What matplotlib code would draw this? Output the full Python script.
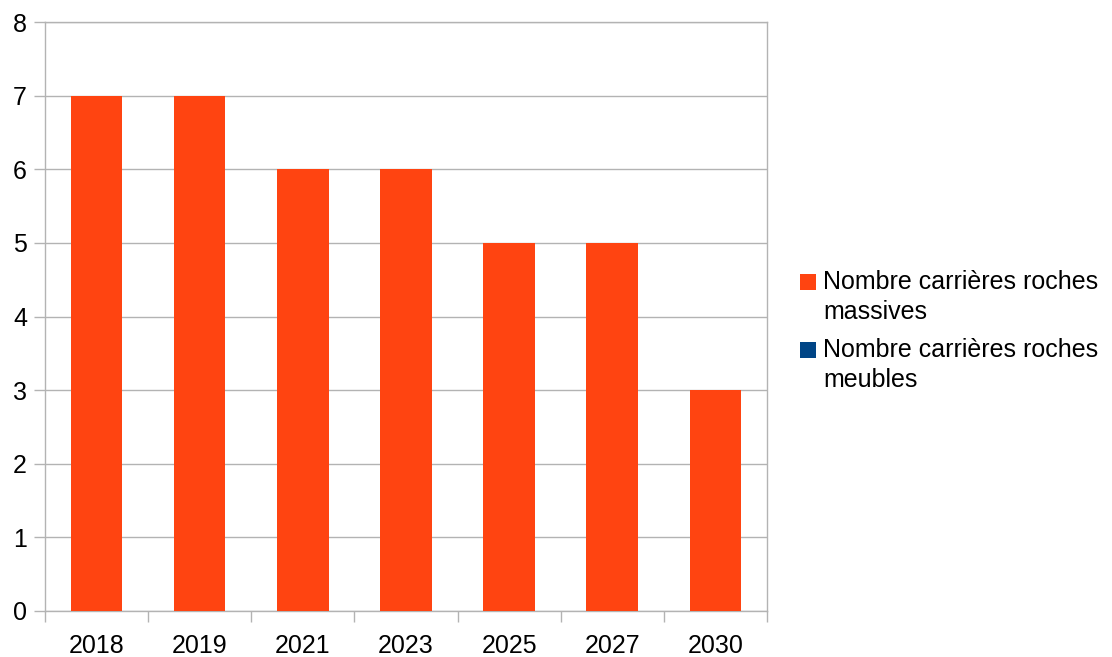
import matplotlib.pyplot as plt
from matplotlib.patches import Rectangle
import numpy as np

plt.rcParams['font.family'] = ['Liberation Sans', 'DejaVu Sans']

years = ['2018', '2019', '2021', '2023', '2025', '2027', '2030']
massives = [7, 7, 6, 6, 5, 5, 3]
meubles = [0, 0, 0, 0, 0, 0, 0]
labels = ['Nombre carrières roches\nmassives', 'Nombre carrières roches\nmeubles']
colors = ['#ff4411', '#004586']

W, H = 1112, 657
fig = plt.figure(figsize=(W / 100, H / 100), dpi=100)
ax = fig.add_axes([45 / W, (H - 611) / H, (767 - 45) / W, (611 - 22) / H])

x = np.arange(len(years))
ax.bar(x, massives, width=0.5, color=colors[0], linewidth=0, zorder=3)
ax.bar(x, meubles, width=0.5, color=colors[1], linewidth=0, zorder=3)

ax.set_xlim(-0.5, len(years) - 0.5)
ax.set_ylim(0, 8)
ax.set_yticks(range(0, 9))
ax.yaxis.grid(True, color='#b3b3b3', linewidth=1, zorder=0)
for s in ax.spines.values():
    s.set_color('#b3b3b3')
    s.set_linewidth(1)

ax.set_xticks(x)
ax.set_xticklabels(years)
ax.set_xticks(np.arange(-0.5, len(years)), minor=True)
ax.tick_params(axis='x', which='major', length=0, pad=16.5, labelsize=18)
ax.tick_params(axis='x', which='minor', length=8, color='#b3b3b3', width=1)
ax.tick_params(axis='y', length=8, color='#b3b3b3', width=1, pad=5, labelsize=18)

# legend drawn by hand so the square sits on the first text line
for i, (lab, c) in enumerate(zip(labels, colors)):
    top = 274 + i * 68
    fig.patches.append(Rectangle((800 / W, (H - top - 16) / H), 16 / W, 16 / H,
                                 transform=fig.transFigure, color=c, linewidth=0))
    fig.text(823 / W, (H - top + 4) / H, lab, fontsize=18, va='top', ha='left',
             linespacing=1.3)

fig.savefig('out.png', dpi=100)
